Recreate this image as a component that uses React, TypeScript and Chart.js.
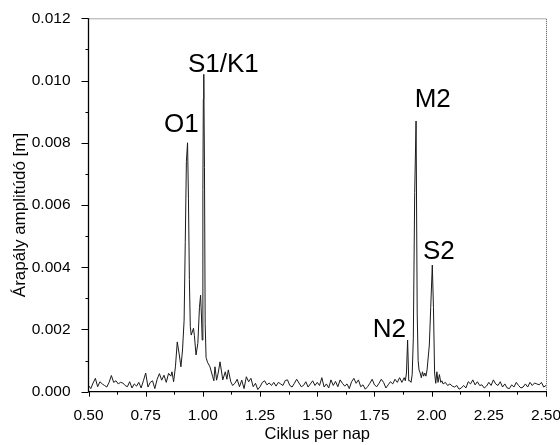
import { useEffect, useRef } from "react";
import { Chart, registerables } from "chart.js";

Chart.register(...registerables);

// Frequency (cycles per day) and tidal amplitude (m)
const frequency = [
  0.50, 0.51, 0.52, 0.53, 0.54, 0.55, 0.56, 0.57, 0.58, 0.59,
  0.60, 0.61, 0.62, 0.63, 0.64, 0.65, 0.66, 0.67, 0.68, 0.69,
  0.70, 0.71, 0.72, 0.73, 0.74, 0.75, 0.76, 0.77, 0.78, 0.79,
  0.80, 0.81, 0.82, 0.83, 0.84, 0.85, 0.86, 0.865, 0.872, 0.88,
  0.888, 0.897, 0.904, 0.911, 0.918, 0.923, 0.928, 0.933, 0.937, 0.941,
  0.945, 0.949, 0.955, 0.959, 0.963, 0.970, 0.978, 0.985, 0.990, 0.994,
  0.997, 1.000, 1.002, 1.004, 1.007, 1.010, 1.014, 1.020, 1.031, 1.043,
  1.048, 1.053, 1.060, 1.067, 1.075, 1.087, 1.098, 1.105, 1.111, 1.122,
  1.130, 1.14, 1.15, 1.16, 1.17, 1.18, 1.19, 1.20, 1.21, 1.22,
  1.23, 1.24, 1.25, 1.26, 1.27, 1.28, 1.29, 1.30, 1.31, 1.32,
  1.33, 1.34, 1.35, 1.36, 1.37, 1.38, 1.39, 1.40, 1.41, 1.42,
  1.43, 1.44, 1.45, 1.46, 1.47, 1.48, 1.49, 1.50, 1.51, 1.52,
  1.53, 1.54, 1.55, 1.56, 1.57, 1.58, 1.59, 1.60, 1.61, 1.62,
  1.63, 1.64, 1.65, 1.66, 1.67, 1.68, 1.69, 1.70, 1.71, 1.72,
  1.73, 1.74, 1.75, 1.76, 1.77, 1.78, 1.79, 1.80, 1.81, 1.82,
  1.83, 1.84, 1.85, 1.86, 1.87, 1.88, 1.885, 1.89, 1.895, 1.90,
  1.905, 1.91, 1.915, 1.92, 1.926, 1.932, 1.937, 1.941, 1.945, 1.95,
  1.955, 1.96, 1.965, 1.97, 1.975, 1.98, 1.99, 1.996, 2.003, 2.008,
  2.013, 2.018, 2.023, 2.028, 2.034, 2.04, 2.045, 2.05, 2.06, 2.07,
  2.08, 2.09, 2.10, 2.11, 2.12, 2.13, 2.14, 2.15, 2.16, 2.17,
  2.18, 2.19, 2.20, 2.21, 2.22, 2.23, 2.24, 2.25, 2.26, 2.27,
  2.28, 2.29, 2.30, 2.31, 2.32, 2.33, 2.34, 2.35, 2.36, 2.37,
  2.38, 2.39, 2.40, 2.41, 2.42, 2.43, 2.44, 2.45, 2.46, 2.47,
  2.48, 2.49, 2.50,
];

const amplitude = [
  0.00020, 0.00010, 0.00028, 0.00043, 0.00016, 0.00032, 0.00025, 0.00020, 0.00015, 0.00030,
  0.00052, 0.00030, 0.00035, 0.00025, 0.00030, 0.00028, 0.00020, 0.00016, 0.00032, 0.00012,
  0.00025, 0.00018, 0.00030, 0.00012, 0.00035, 0.00060, 0.00015, 0.00030, 0.00035, 0.00010,
  0.00040, 0.00058, 0.00037, 0.00053, 0.00030, 0.00059, 0.00050, 0.00064, 0.00032, 0.00080,
  0.00160, 0.00118, 0.00080, 0.00134, 0.00230, 0.00480, 0.00740, 0.00800, 0.00620, 0.00360,
  0.00210, 0.00182, 0.00195, 0.00204, 0.00180, 0.00118, 0.00155, 0.00270, 0.00310, 0.00240,
  0.00166, 0.00650, 0.00940, 0.01020, 0.00720, 0.00220, 0.00110, 0.00095, 0.00080, 0.00048,
  0.00035, 0.00080, 0.00037, 0.00060, 0.00096, 0.00038, 0.00064, 0.00040, 0.00070, 0.00032,
  0.00020, 0.00027, 0.00040, 0.00016, 0.00037, 0.00010, 0.00048, 0.00032, 0.00043, 0.00016,
  0.00027, 0.00007, 0.00016, 0.00030, 0.00035, 0.00022, 0.00028, 0.00020, 0.00030, 0.00018,
  0.00030, 0.00025, 0.00020, 0.00036, 0.00038, 0.00020, 0.00015, 0.00027, 0.00040, 0.00028,
  0.00016, 0.00020, 0.00032, 0.00015, 0.00025, 0.00035, 0.00020, 0.00030, 0.00020, 0.00045,
  0.00015, 0.00025, 0.00012, 0.00038, 0.00020, 0.00033, 0.00016, 0.00038, 0.00027, 0.00018,
  0.00025, 0.00010, 0.00032, 0.00043, 0.00027, 0.00038, 0.00016, 0.00022, 0.00008, 0.00016,
  0.00027, 0.00040, 0.00022, 0.00016, 0.00027, 0.00040, 0.00030, 0.00012, 0.00022, 0.00032,
  0.00025, 0.00040, 0.00030, 0.00045, 0.00030, 0.00045, 0.00035, 0.00060, 0.00166, 0.00035,
  0.00035, 0.00030, 0.00055, 0.00170, 0.00640, 0.00870, 0.00250, 0.00100, 0.00070, 0.00060,
  0.00045, 0.00064, 0.00050, 0.00060, 0.00050, 0.00070, 0.00150, 0.00270, 0.00407, 0.00270,
  0.00060, 0.00027, 0.00064, 0.00030, 0.00055, 0.00030, 0.00035, 0.00025, 0.00030, 0.00020,
  0.00025, 0.00018, 0.00015, 0.00020, 0.00008, 0.00012, 0.00020, 0.00012, 0.00032, 0.00025,
  0.00038, 0.00022, 0.00032, 0.00020, 0.00022, 0.00012, 0.00018, 0.00030, 0.00020, 0.00038,
  0.00025, 0.00020, 0.00032, 0.00015, 0.00025, 0.00012, 0.00010, 0.00022, 0.00015, 0.00030,
  0.00020, 0.00012, 0.00015, 0.00025, 0.00015, 0.00030, 0.00020, 0.00028, 0.00025, 0.00022,
  0.00030, 0.00015, 0.00020,
];

// Constituent labels: name, anchor frequency (left edge of text), anchor amplitude (baseline)
const peakNames = ["O1", "S1/K1", "N2", "M2", "S2"];
const peakLabelFreq = [0.830, 0.935, 1.743, 1.926, 1.962];
const peakLabelAmp = [0.00836, 0.01028, 0.00176, 0.00915, 0.00426];

const xTickValues = [0.5, 0.75, 1.0, 1.25, 1.5, 1.75, 2.0, 2.25, 2.5];
const xTitle = "Ciklus per nap";
const yTitle = "Árapály amplitúdó [m]";

const FONT = "'Liberation Sans', Arial, sans-serif";

const decorPlugin = {
  id: "decor",
  afterDraw(chart: any) {
    const { ctx, chartArea: a, scales } = chart;
    const xs = scales.x;
    const ys = scales.y;
    ctx.save();
    // dotted top/right frame
    ctx.strokeStyle = "#555";
    ctx.lineWidth = 1;
    ctx.setLineDash([1, 1]);
    ctx.beginPath();
    ctx.moveTo(a.left, a.top + 0.5);
    ctx.lineTo(a.right + 0.5, a.top + 0.5);
    ctx.lineTo(a.right + 0.5, a.bottom);
    ctx.stroke();
    ctx.setLineDash([]);
    // solid left/bottom axes
    ctx.strokeStyle = "#000";
    ctx.lineWidth = 1.3;
    ctx.beginPath();
    ctx.moveTo(a.left, a.top);
    ctx.lineTo(a.left, a.bottom);
    ctx.lineTo(a.right + 1, a.bottom);
    ctx.stroke();
    // x ticks (major + minor)
    ctx.lineWidth = 1;
    for (let i = 0; i < xTickValues.length; i++) {
      const px = Math.round(xs.getPixelForValue(xTickValues[i])) + 0.5;
      ctx.beginPath();
      ctx.moveTo(px, a.bottom);
      ctx.lineTo(px, a.bottom + 5);
      ctx.stroke();
      if (i < xTickValues.length - 1) {
        const mx = Math.round(xs.getPixelForValue((xTickValues[i] + xTickValues[i + 1]) / 2)) + 0.5;
        ctx.beginPath();
        ctx.moveTo(mx, a.bottom);
        ctx.lineTo(mx, a.bottom + 3);
        ctx.stroke();
      }
    }
    // y ticks
    const yStep = 0.001;
    for (let k = 0; k <= 12; k++) {
      const v = k * yStep;
      const py = Math.round(ys.getPixelForValue(v)) + 0.5;
      const len = k % 2 === 0 ? 7 : 3;
      ctx.beginPath();
      ctx.moveTo(a.left - len, py);
      ctx.lineTo(a.left, py);
      ctx.stroke();
    }
    // y axis title
    ctx.fillStyle = "#000";
    ctx.font = `17px ${FONT}`;
    ctx.textAlign = "center";
    ctx.textBaseline = "middle";
    ctx.translate(20, (a.top + a.bottom) / 2 + 10);
    ctx.rotate(-Math.PI / 2);
    ctx.fillText(yTitle, 0, 0);
    ctx.setTransform(1, 0, 0, 1, 0, 0);
    // constituent labels
    ctx.font = `26px ${FONT}`;
    ctx.textAlign = "left";
    ctx.textBaseline = "alphabetic";
    for (let i = 0; i < peakNames.length; i++) {
      ctx.fillText(
        peakNames[i],
        xs.getPixelForValue(peakLabelFreq[i]),
        ys.getPixelForValue(peakLabelAmp[i])
      );
    }
    ctx.restore();
  },
};

export default function App() {
  const canvasRef = useRef<HTMLCanvasElement | null>(null);

  useEffect(() => {
    const canvas = canvasRef.current;
    if (!canvas) return;
    const points = frequency.map((f, i) => ({ x: f, y: amplitude[i] }));
    const chart = new Chart(canvas, {
      type: "line",
      data: {
        datasets: [
          {
            data: points,
            borderColor: "#1a1a1a",
            borderWidth: 1,
            pointRadius: 0,
            tension: 0,
            fill: false,
          },
        ],
      },
      options: {
        responsive: false,
        animation: false,
        events: [],
        layout: { padding: { left: 0, top: 18.3, right: 14, bottom: 0 } },
        plugins: { legend: { display: false }, tooltip: { enabled: false } },
        scales: {
          x: {
            type: "linear",
            min: 0.5,
            max: 2.5,
            afterFit: (s: any) => {
              s.height = 53.3;
              s.paddingLeft = 0;
              s.paddingRight = 0;
            },
            grid: { display: false },
            border: { display: false },
            ticks: {
              stepSize: 0.25,
              padding: 7,
              color: "#000",
              font: { family: FONT, size: 15.5 },
              callback: (v: any) => Number(v).toFixed(2),
              maxRotation: 0,
            },
            title: {
              display: true,
              text: xTitle,
              color: "#000",
              font: { family: FONT, size: 16.5 },
              padding: { top: 0, bottom: 1 },
            },
          },
          y: {
            type: "linear",
            min: 0,
            max: 0.012,
            afterFit: (s: any) => {
              s.width = 88.5;
              s.paddingTop = 0;
              s.paddingBottom = 0;
            },
            grid: { display: false },
            border: { display: false },
            ticks: {
              stepSize: 0.002,
              padding: 10,
              color: "#000",
              font: { family: FONT, size: 15.5 },
              callback: (v: any) => Number(v).toFixed(3),
            },
            title: { display: false },
          },
        },
      },
      plugins: [decorPlugin],
    });
    return () => chart.destroy();
  }, []);

  return (
    <div
      style={{
        position: "fixed",
        left: 0,
        top: 0,
        width: 560,
        height: 445,
        background: "#fff",
      }}
    >
      <canvas ref={canvasRef} width={560} height={445} style={{ display: "block" }} />
    </div>
  );
}
